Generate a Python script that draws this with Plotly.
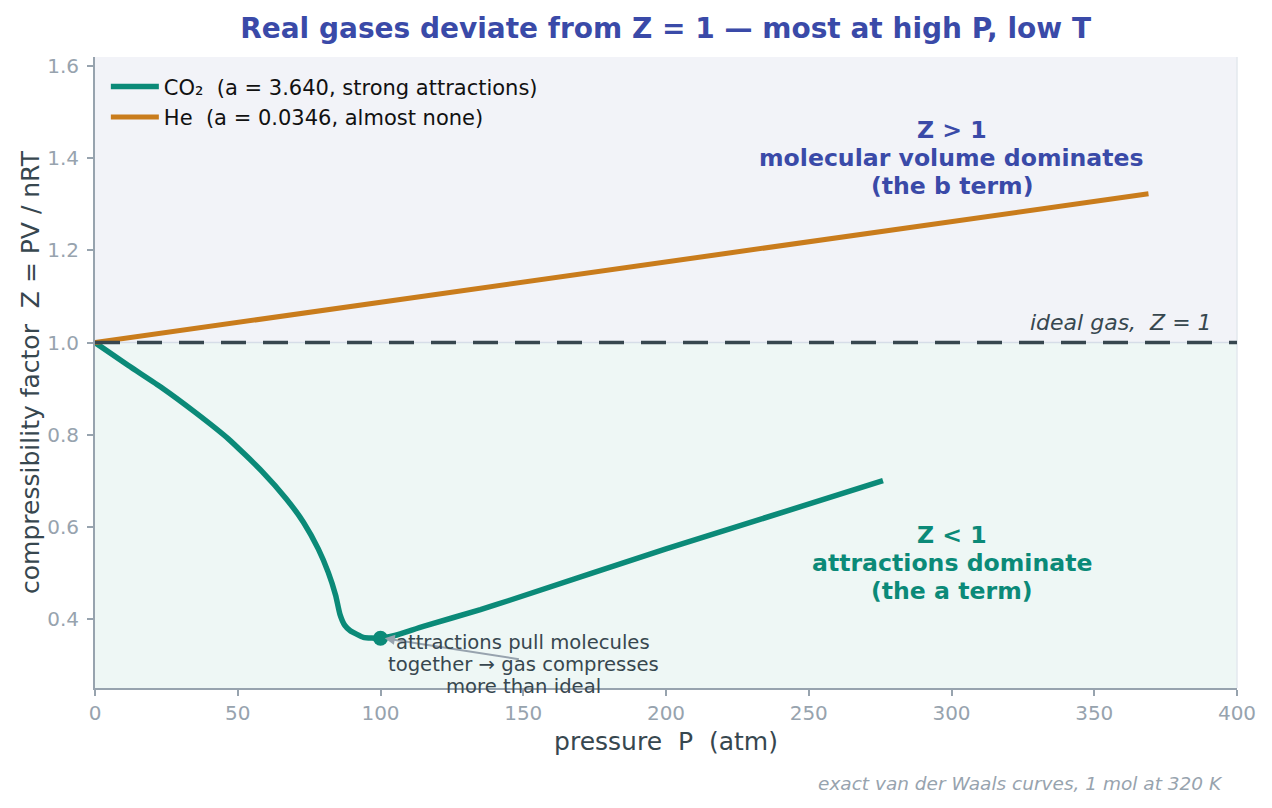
import plotly.graph_objects as go

# pressure (atm) and compressibility factor
co2_p = [0, 11.7, 23.4, 35.0, 46.7, 58.4, 67.1, 73.0, 78.2, 81.7, 84.3, 85.8, 87.5, 89.3, 91.6, 94, 100, 105, 115,
         135, 145, 200, 276]
co2_z = [1.0, 0.950, 0.902, 0.849, 0.791, 0.721, 0.660, 0.610, 0.552, 0.501, 0.451, 0.410, 0.386, 0.375, 0.367,
         0.360, 0.358, 0.364, 0.384, 0.420, 0.440, 0.552, 0.700]
he_p = [0, 100, 200, 300, 369]
he_z = [1.0, 1.087, 1.174, 1.262, 1.323]
min_p = [100]
min_z = [0.358]

TEAL = '#0b8a78'
ORANGE = '#c97c1c'
BLUE = '#3a4aa8'
SLATE = '#37474f'
GREY = '#97a3ae'
FONT = 'DejaVu Sans'


def text_block(fig, x, y, lines, size, color, spacing, bold=False):
    # one annotation per line so the line spacing matches the reference
    mid = (len(lines) - 1) / 2
    for i, line in enumerate(lines):
        fig.add_annotation(x=x, y=y, text=f'<b>{line}</b>' if bold else line, showarrow=False,
                           yshift=(mid - i) * spacing, font=dict(family=FONT, size=size, color=color))


fig = go.Figure()
fig.add_trace(go.Scatter(x=co2_p, y=co2_z, mode='lines',
                         line=dict(color=TEAL, width=5.5, shape='spline', smoothing=0.5),
                         name='CO₂ \u00a0(a = 3.640, strong attractions)'))
fig.add_trace(go.Scatter(x=he_p, y=he_z, mode='lines', line=dict(color=ORANGE, width=5),
                         name='He \u00a0(a = 0.0346, almost none)'))
fig.add_trace(go.Scatter(x=min_p, y=min_z, mode='markers', marker=dict(color=TEAL, size=15),
                         showlegend=False, hoverinfo='skip'))

# shaded regions and ideal-gas line
fig.add_shape(type='rect', xref='paper', yref='y', x0=0, x1=1, y0=1.0, y1=1.62,
              fillcolor='#f2f3f8', line_width=0, layer='below')
fig.add_shape(type='rect', xref='paper', yref='y', x0=0, x1=1, y0=0.25, y1=1.0,
              fillcolor='#eef7f5', line_width=0, layer='below')
fig.add_shape(type='line', xref='paper', yref='paper', x0=1, x1=1, y0=0, y1=1,
              line=dict(color='#e3e8ee', width=1.5), layer='below')
fig.add_shape(type='line', xref='paper', yref='y', x0=0, x1=1, y0=1.0, y1=1.0,
              line=dict(color='#d6dde8', width=1.5))
fig.add_shape(type='line', xref='paper', yref='y', x0=0, x1=1, y0=1.0, y1=1.0,
              line=dict(color=SLATE, width=3.5, dash='25px,17px'))

fig.add_annotation(x=1.0, xref='paper', y=1.0, text='<i>ideal gas, \u00a0Z = 1</i>', showarrow=False,
                   xanchor='right', yanchor='bottom', xshift=-23, yshift=6,
                   font=dict(family=FONT, size=22, color=SLATE))
text_block(fig, 300, 1.401, ['Z > 1', 'molecular volume dominates', '(the b term)'], 23.6, BLUE, 28, bold=True)
text_block(fig, 300, 0.521, ['Z < 1', 'attractions dominate', '(the a term)'], 23.6, TEAL, 28, bold=True)
fig.add_annotation(x=101.5, y=0.358, ax=149, ay=0.312, axref='x', ayref='y', text='',
                   showarrow=True, arrowhead=2, arrowsize=1, arrowwidth=2, arrowcolor=GREY)
text_block(fig, 150, 0.300, ['attractions pull molecules', 'together → gas compresses', 'more than ideal'],
           19.6, SLATE, 22)
fig.add_annotation(x=1.0, xref='paper', y=0, yref='paper', text='<i>exact van der Waals curves, 1 mol at 320 K</i>',
                   showarrow=False, xanchor='right', yanchor='middle', xshift=-12, yshift=-95,
                   font=dict(family=FONT, size=18.5, color=GREY))

fig.update_layout(
    width=1272, height=808,
    margin=dict(l=87, r=43, t=49, b=128),
    paper_bgcolor='white', plot_bgcolor='white',
    font=dict(family=FONT, color=SLATE),
    title=dict(text='<b>Real gases deviate from Z = 1 — most at high P, low T</b>', x=0.517, xanchor='center',
               y=0.975, yanchor='middle', font=dict(family=FONT, size=28, color=BLUE)),
    legend=dict(x=0.0095, y=0.985, xanchor='left', yanchor='top', bgcolor='rgba(0,0,0,0)', itemwidth=48,
                font=dict(family=FONT, size=21, color='#111111'), tracegroupgap=4),
    showlegend=True,
)
fig.update_xaxes(range=[0, 400], tickvals=[0, 50, 100, 150, 200, 250, 300, 350, 400], showgrid=False,
                 zeroline=False, showline=True, linecolor=GREY, linewidth=2, ticks='outside', ticklen=6,
                 tickcolor=GREY, tickwidth=1.5, tickfont=dict(family=FONT, size=20, color=GREY), automargin=False,
                 title=dict(text='pressure \u00a0P \u00a0(atm)', font=dict(family=FONT, size=25, color=SLATE),
                            standoff=8))
fig.update_yaxes(range=[0.25, 1.62], tickvals=[0.4, 0.6, 0.8, 1.0, 1.2, 1.4, 1.6],
                 ticktext=['0.4', '0.6', '0.8', '1.0', '1.2', '1.4', '1.6'], automargin=False,
                 ticklabelstandoff=4,
                 showgrid=False, zeroline=False, showline=True, linecolor=GREY, linewidth=2, ticks='outside',
                 ticklen=6, tickcolor=GREY, tickwidth=1.5, tickfont=dict(family=FONT, size=20, color=GREY),
                 title=dict(text='compressibility factor \u00a0Z = PV / nRT',
                            font=dict(family=FONT, size=25, color=SLATE), standoff=0))

fig.write_html('out.html')
